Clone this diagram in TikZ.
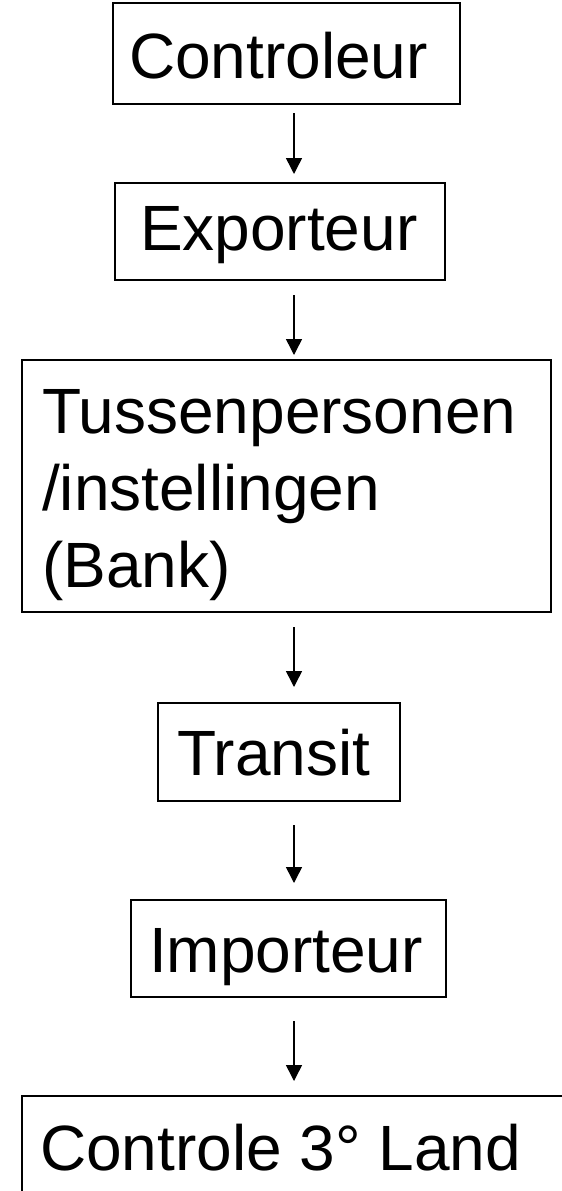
\documentclass[tikz,border=0pt]{standalone}
\usepackage{fontspec}
\setmainfont{Liberation Sans}
\usetikzlibrary{arrows.meta}
\begin{document}
\begin{tikzpicture}[x=1pt,y=-1pt,
  box/.style={draw=black, line width=1.8pt, inner sep=0pt, outer sep=0pt, anchor=north west},
  lbl/.style={inner sep=0pt, outer sep=0pt, anchor=base west, font=\fontsize{64}{77}\selectfont, align=left},
  arr/.style={line width=1.5pt, -{Triangle[width=16pt,length=16pt]}}]
\useasboundingbox (0,0) rectangle (562,1191);
\clip (0,0) rectangle (562,1191);
\fill[white] (0,0) rectangle (562,1191);
% boxes
\node[box, minimum width=347pt, minimum height=101pt] (ctrl) at (113,3) {};
\node[box, minimum width=330pt, minimum height=97pt] (exp) at (115,183) {};
\node[box, minimum width=529pt, minimum height=252pt] (tus) at (22,360) {};
\node[box, minimum width=242pt, minimum height=98pt] (tra) at (158,703) {};
\node[box, minimum width=315pt, minimum height=97pt] (imp) at (131,900) {};
\node[box, minimum width=620pt, minimum height=200pt] (land) at (22,1096) {};
% texts
\node[lbl] (tctrl) at (129,78) {Controleur};
\node[lbl] (texp) at (140,250) {Exporteur};
\node[lbl] (ttus) at (42,587) {Tussenpersonen\\/instellingen\\(Bank)};
\node[lbl] (ttra) at (177,775) {Transit};
\node[lbl] (timp) at (149,972) {Importeur};
\node[lbl] (tland) at (40,1170) {Controle 3° Land};
% arrows
\coordinate (ax) at (294,0);
\draw[arr, shorten <=9pt, shorten >=9pt] (ctrl.south -| ax) -- (exp.north -| ax);
\draw[arr, shorten <=15pt, shorten >=5pt] (exp.south -| ax) -- (tus.north -| ax);
\draw[arr, shorten <=15pt, shorten >=16pt] (tus.south -| ax) -- (tra.north -| ax);
\draw[arr, shorten <=24pt, shorten >=17pt] (tra.south -| ax) -- (imp.north -| ax);
\draw[arr, shorten <=24pt, shorten >=15pt] (imp.south -| ax) -- (land.north -| ax);
\end{tikzpicture}
\end{document}
